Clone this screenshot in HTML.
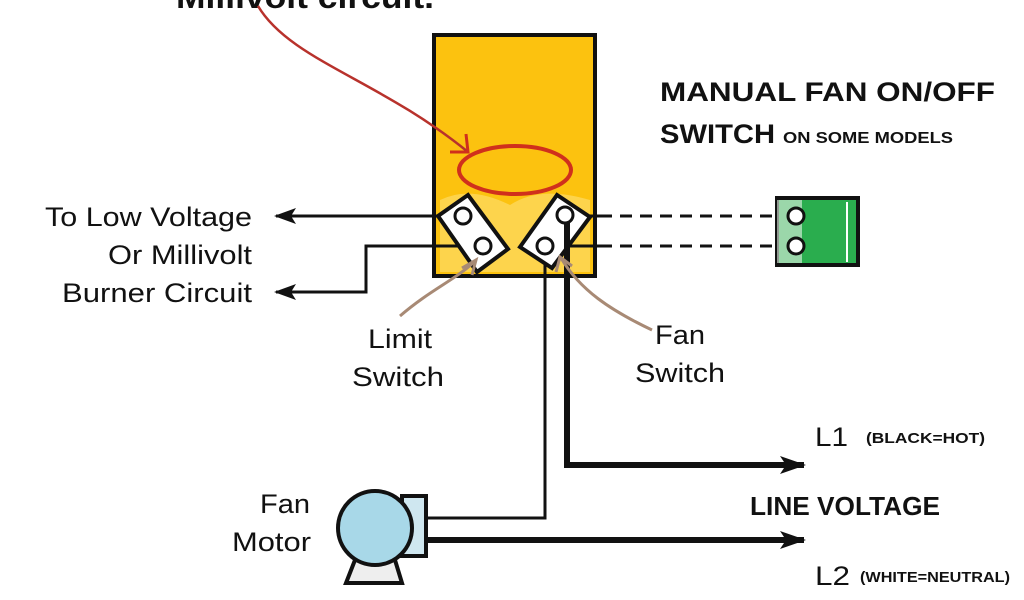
<!DOCTYPE html>
<html><head><meta charset="utf-8"><style>
html,body{margin:0;padding:0;background:#fff;}
svg{display:block;}
.t{font-family:"Liberation Sans",Arial,sans-serif;fill:#111;}
.b{font-family:"Liberation Sans",Arial,sans-serif;font-weight:bold;fill:#111;}
</style></head><body>
<svg width="1024" height="600" viewBox="0 0 1024 600" xmlns="http://www.w3.org/2000/svg">
<defs>
<marker id="ahb" markerWidth="26" markerHeight="18" refX="24" refY="9" orient="auto" markerUnits="userSpaceOnUse"><path d="M0,0 L26,9 L0,18 L6,9 Z" fill="#111"/></marker>
<marker id="ahl" markerWidth="22" markerHeight="16" refX="20" refY="8" orient="auto" markerUnits="userSpaceOnUse"><path d="M0,0 L22,8 L0,16 L5,8 Z" fill="#111"/></marker>
</defs>
<text class="b" x="176" y="8" font-size="32" textLength="258" lengthAdjust="spacingAndGlyphs">Millivolt circuit.</text>
<rect x="434" y="35" width="161" height="241" fill="#fcc20f" stroke="#111" stroke-width="4"/>
<path d="M440,200 Q470,185 510,205 Q540,185 590,200 L590,272 L440,272 Z" fill="#fde58a" opacity="0.5"/>
<line x1="463" y1="216" x2="276" y2="216" stroke="#111" stroke-width="3" marker-end="url(#ahl)"/>
<polyline points="483,246 366,246 366,292 276,292" fill="none" stroke="#111" stroke-width="3" marker-end="url(#ahl)"/>
<line x1="565" y1="216" x2="600" y2="216" stroke="#111" stroke-width="3"/>
<line x1="545" y1="246" x2="600" y2="246" stroke="#111" stroke-width="3"/>
<line x1="600" y1="216" x2="786" y2="216" stroke="#111" stroke-width="3" stroke-dasharray="12,8"/>
<line x1="600" y1="246" x2="786" y2="246" stroke="#111" stroke-width="3" stroke-dasharray="12,8"/>
<polyline points="545,246 545,518 420,518" fill="none" stroke="#111" stroke-width="3"/>
<polyline points="567,216 567,465 804,465" fill="none" stroke="#111" stroke-width="6" marker-end="url(#ahb)"/>
<line x1="420" y1="540" x2="804" y2="540" stroke="#111" stroke-width="6" marker-end="url(#ahb)"/>
<polygon points="438,216 468,195 508,249 477,272" fill="#fff" stroke="#111" stroke-width="4"/>
<circle cx="463" cy="216" r="8" fill="#fff" stroke="#111" stroke-width="3"/>
<circle cx="483" cy="246" r="8" fill="#fff" stroke="#111" stroke-width="3"/>
<polygon points="520,247 557,195 590,217 552,268" fill="#fff" stroke="#111" stroke-width="4"/>
<circle cx="565" cy="215" r="8" fill="#fff" stroke="#111" stroke-width="3"/>
<circle cx="545" cy="246" r="8" fill="#fff" stroke="#111" stroke-width="3"/>
<line x1="567" y1="222" x2="567" y2="276" stroke="#111" stroke-width="6"/>
<ellipse cx="515" cy="170" rx="56" ry="24" fill="none" stroke="#d0301c" stroke-width="4"/>
<path d="M258,6 C290,60 380,80 468,152" fill="none" stroke="#b8322c" stroke-width="2.5"/>
<path d="M466,134 L468,152 L450,152" fill="none" stroke="#d0301c" stroke-width="3"/>
<path d="M400,316 C430,290 455,280 474,262" fill="none" stroke="#a88a75" stroke-width="3"/>
<path d="M462,268 L476,260 L472,275" fill="none" stroke="#a88a75" stroke-width="3"/>
<path d="M652,330 C610,310 580,290 561,258" fill="none" stroke="#a88a75" stroke-width="3"/>
<path d="M556,272 L560,257 L572,266" fill="none" stroke="#a88a75" stroke-width="3"/>
<rect x="777" y="198" width="81" height="67" fill="#2aad4e" stroke="#111" stroke-width="4"/>
<rect x="777" y="200" width="25" height="63" fill="#e8f3e8" opacity="0.6"/>
<line x1="847" y1="202" x2="847" y2="262" stroke="#fff" stroke-width="2"/>
<circle cx="796" cy="216" r="8" fill="#fff" stroke="#111" stroke-width="3"/>
<circle cx="796" cy="246" r="8" fill="#fff" stroke="#111" stroke-width="3"/>
<rect x="402" y="496" width="24" height="60" fill="#cfe7f0" stroke="#111" stroke-width="4"/>
<path d="M355,560 L395,560 L402,583 L346,583 Z" fill="#eee" stroke="#111" stroke-width="4"/>
<circle cx="375" cy="528" r="37" fill="#a8d8e8" stroke="#111" stroke-width="4"/>
<g class="t" font-size="27" lengthAdjust="spacingAndGlyphs">
<text x="45" y="226" textLength="207" lengthAdjust="spacingAndGlyphs">To Low Voltage</text>
<text x="108" y="264" textLength="144" lengthAdjust="spacingAndGlyphs">Or Millivolt</text>
<text x="62" y="302" textLength="190" lengthAdjust="spacingAndGlyphs">Burner Circuit</text>
<text x="260" y="513" textLength="50" lengthAdjust="spacingAndGlyphs">Fan</text>
<text x="232" y="551" textLength="79" lengthAdjust="spacingAndGlyphs">Motor</text>
<text x="368" y="348" textLength="64" lengthAdjust="spacingAndGlyphs">Limit</text>
<text x="352" y="386" textLength="92" lengthAdjust="spacingAndGlyphs">Switch</text>
<text x="655" y="344" textLength="50" lengthAdjust="spacingAndGlyphs">Fan</text>
<text x="635" y="382" textLength="90" lengthAdjust="spacingAndGlyphs">Switch</text>
</g>
<text class="b" x="660" y="101" font-size="27" textLength="335" lengthAdjust="spacingAndGlyphs">MANUAL FAN ON/OFF</text>
<text class="b" x="660" y="143" font-size="27" textLength="115" lengthAdjust="spacingAndGlyphs">SWITCH</text>
<text class="b" x="783" y="143" font-size="16" textLength="170" lengthAdjust="spacingAndGlyphs">ON SOME MODELS</text>
<text class="t" x="815" y="446" font-size="27" textLength="33" lengthAdjust="spacingAndGlyphs">L1</text>
<text class="b" x="866" y="443" font-size="15" textLength="119" lengthAdjust="spacingAndGlyphs">(BLACK=HOT)</text>
<text class="b" x="750" y="515" font-size="26" textLength="190" lengthAdjust="spacingAndGlyphs">LINE VOLTAGE</text>
<text class="t" x="815" y="585" font-size="27" textLength="35" lengthAdjust="spacingAndGlyphs">L2</text>
<text class="b" x="860" y="582" font-size="15" textLength="150" lengthAdjust="spacingAndGlyphs">(WHITE=NEUTRAL)</text>
</svg>
</body></html>
